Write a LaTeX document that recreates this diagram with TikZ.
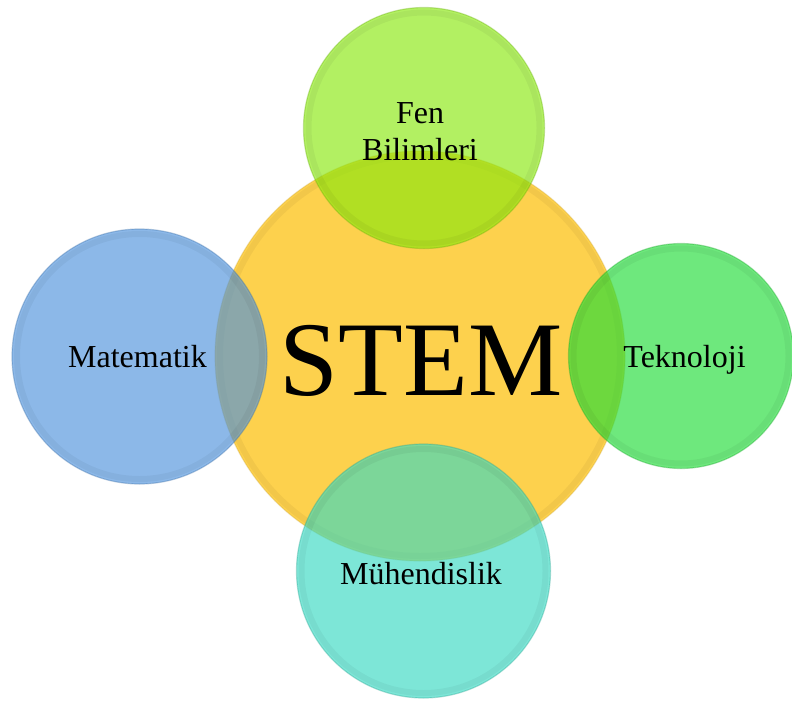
\documentclass[tikz,border=0pt]{standalone}
\usepackage{fontspec}
\setmainfont{Liberation Serif}
\definecolor{cstem}{RGB}{253,209,77}
\definecolor{cfen}{RGB}{137,232,14}
\definecolor{ctek}{RGB}{32,220,55}
\definecolor{cmat}{RGB}{78,146,220}
\definecolor{cmuh}{RGB}{55,217,194}
\newcommand{\labfont}{\fontsize{32}{37}\selectfont}
\begin{document}
\begin{tikzpicture}[x=1pt,y=-1pt,
  bub/.style={circle, inner sep=0pt, minimum size=#1},
  glass/.style={fill=#1, fill opacity=0.65, draw=#1!75!black, draw opacity=0.35, line width=1.2pt},
  rim/.style={draw=black, draw opacity=0.045, line width=6pt},
  lab/.style={align=center, font=\labfont, text=black, inner sep=0pt, anchor=base}]
\useasboundingbox (0,0) rectangle (792,704);
% central circle
\node[bub=410pt, fill=cstem, draw=cstem!80!black, draw opacity=0.3, line width=1.2pt] (stem) at (420,356) {};
\draw[rim] (420,356) circle (200);
\node[lab, font=\fontsize{106}{106}\selectfont] (stemlab) at (421,395) {STEM};
% outer circles
\node[bub=241pt, glass=cfen] (fen) at (424,128) {};
\draw[rim] (424,128) circle (115.5);
\node[bub=225pt, glass=ctek] (tek) at (681,356) {};
\draw[rim] (681,356) circle (107.5);
\node[bub=255pt, glass=cmat] (mat) at (139.5,356.5) {};
\draw[rim] (139.5,356.5) circle (122.5);
\node[bub=254pt, glass=cmuh] (muh) at (423.5,571) {};
\draw[rim] (423.5,571) circle (122);
% labels
\node[lab] (fenlab1) at (420,123) {Fen};
\node[lab] (fenlab2) at (420,160) {Bilimleri};
\node[lab] (teklab) at (684.5,367) {Teknoloji};
\node[lab] (matlab) at (137.5,367) {Matematik};
\node[lab] (muhlab) at (421,584) {Mühendislik};
\end{tikzpicture}
\end{document}
